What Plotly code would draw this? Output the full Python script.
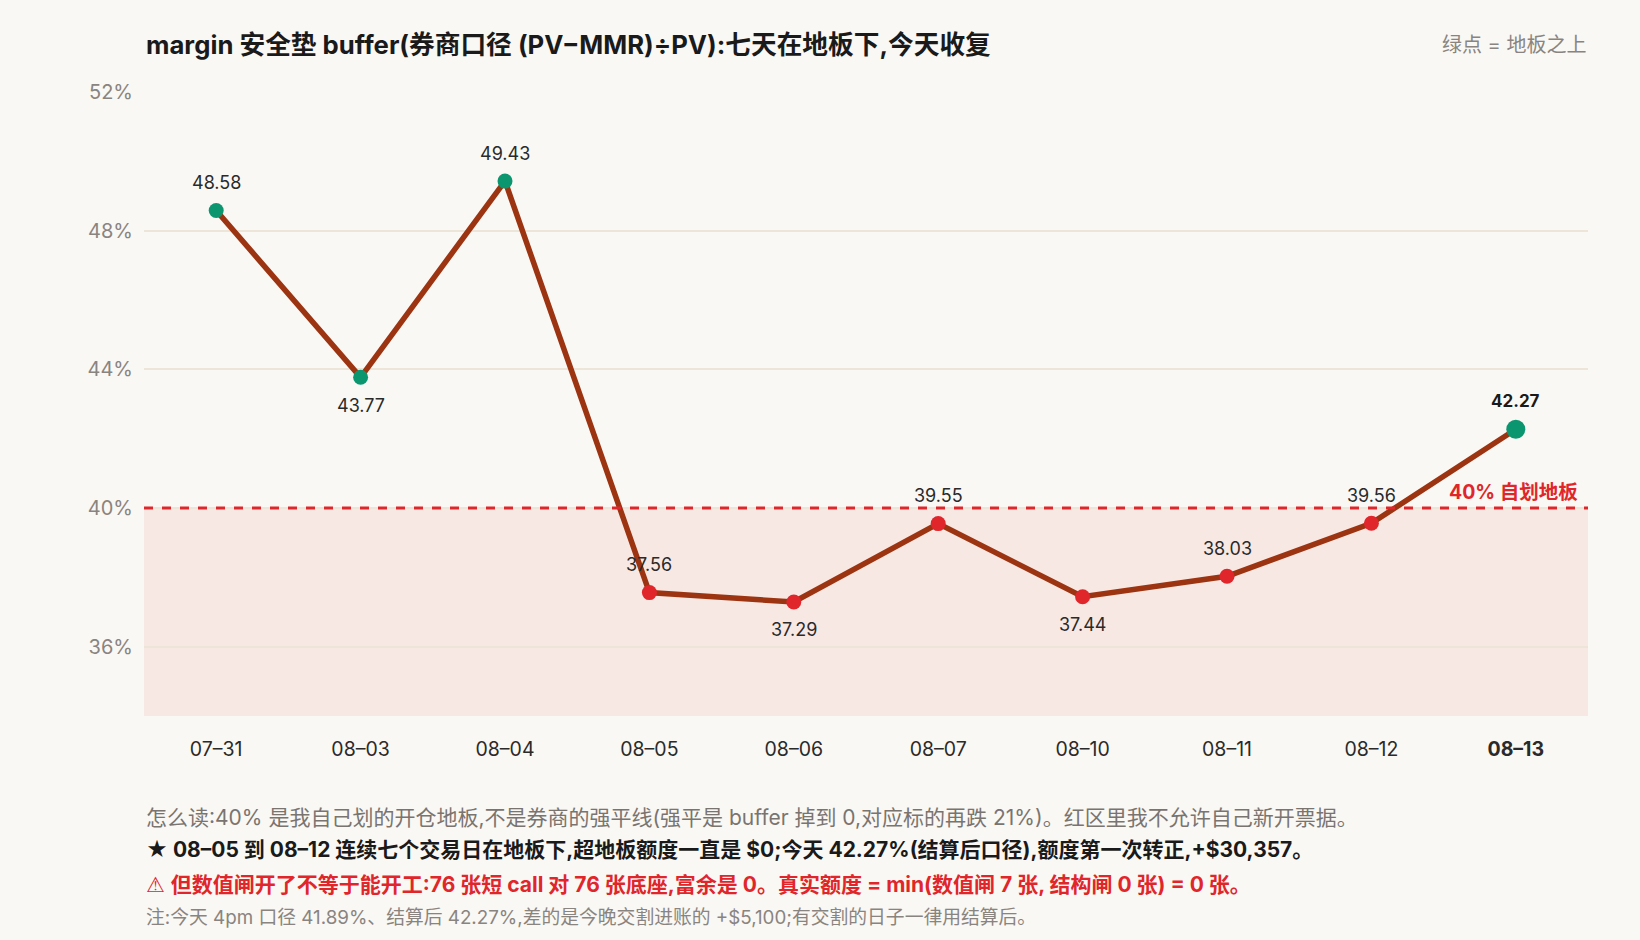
import plotly.graph_objects as go

# 数据
dates = ["07–31", "08–03", "08–04", "08–05", "08–06", "08–07", "08–10", "08–11", "08–12", "08–13"]
buffer_pct = [48.58, 43.77, 49.43, 37.56, 37.29, 39.55, 37.44, 38.03, 39.56, 42.27]
label_above = [True, False, True, True, False, True, False, True, True, True]
floor = 40
y_ticks = [36, 40, 44, 48, 52]

FONT = "Inter, Noto Sans CJK SC"
GREEN = "#0c9670"
RED = "#e0262b"
LINE = "#9c3412"

marker_colors = [GREEN if v >= floor else RED for v in buffer_pct]
marker_sizes = [15] * (len(dates) - 1) + [19]
tick_text = dates[:-1] + [f"<b>{dates[-1]}</b>"]

fig = go.Figure()
fig.add_trace(go.Scatter(
    x=dates, y=buffer_pct, mode="lines",
    line=dict(color=LINE, width=5.5), hoverinfo="skip",
))
fig.add_trace(go.Scatter(
    x=dates, y=buffer_pct, mode="markers",
    marker=dict(color=marker_colors, size=marker_sizes, opacity=1, line=dict(width=0)),
    cliponaxis=False, hoverinfo="skip",
))

# 数值标签
for i, (d, v, up) in enumerate(zip(dates, buffer_pct, label_above)):
    last = i == len(dates) - 1
    fig.add_annotation(x=d, y=v, text=f"<b>{v:.2f}</b>" if last else f"{v:.2f}",
                       showarrow=False, yshift=28 if up else -28,
                       font=dict(family=FONT, size=18 if not last else 17,
                                 color="#1a1a1a" if last else "#2a2a2a"))

# 红区 + 地板线
fig.add_shape(type="rect", xref="paper", yref="y", x0=0, x1=1, y0=34, y1=floor,
              fillcolor="#f8e8e4", line=dict(width=0), layer="below")
fig.add_shape(type="line", xref="paper", yref="y", x0=0, x1=1, y0=floor, y1=floor,
              line=dict(color=RED, width=3, dash="dash"), layer="above")
fig.add_annotation(xref="paper", yref="y", x=1, y=floor, xanchor="right", yanchor="bottom",
                   xshift=-8, yshift=2, showarrow=False,
                   text="<b>40% 自划地板</b>", font=dict(family=FONT, size=19.5, color=RED))

# 标题和角注
fig.add_annotation(xref="paper", yref="paper", x=0, y=1, xanchor="left", yanchor="middle",
                   yshift=48, showarrow=False,
                   text="<b>margin 安全垫 buffer(券商口径 (PV−MMR)÷PV):七天在地板下,今天收复</b>",
                   font=dict(family=FONT, size=25.7, color="#1a1a1a"))
fig.add_annotation(xref="paper", yref="paper", x=1, y=1, xanchor="right", yanchor="middle",
                   yshift=47, showarrow=False, text="绿点 = 地板之上",
                   font=dict(family=FONT, size=20, color="#8a8480"))

# 底部说明
notes = [
    ("怎么读:40% 是我自己划的开仓地板,不是券商的强平线(强平是 buffer 掉到 0,对应标的再跌 21%)。红区里我不允许自己新开票据。",
     "#7a7470", 21),
    ("<b>★ 08–05 到 08–12 连续七个交易日在地板下,超地板额度一直是 $0;今天 42.27%(结算后口径),额度第一次转正,+$30,357。</b>",
     "#1a1a1a", 21),
    ("<span style=\"font-family:'DejaVu Sans'\">⚠</span> <b>但数值闸开了不等于能开工:76 张短 call 对 76 张底座,富余是 0。真实额度 = min(数值闸 7 张, 结构闸 0 张) = 0 张。</b>",
     RED, 21),
    ("注:今天 4pm 口径 41.89%、结算后 42.27%,差的是今晚交割进账的 +$5,100;有交割的日子一律用结算后。",
     "#8a8480", 18.8),
]
note_y = [817, 850, 884, 917]
for (txt, col, sz), yy in zip(notes, note_y):
    fig.add_annotation(xref="paper", yref="paper", x=0, y=(716 - yy) / 624,
                       xanchor="left", yanchor="middle", showarrow=False,
                       text=txt, font=dict(family=FONT, size=sz, color=col))

fig.update_layout(
    width=1640, height=940,
    margin=dict(l=144, r=52, t=92, b=224),
    paper_bgcolor="#f9f8f4", plot_bgcolor="#f9f8f4",
    showlegend=False,
    font=dict(family=FONT),
    xaxis=dict(
        tickmode="array", tickvals=dates, ticktext=tick_text,
        range=[-0.5, len(dates) - 0.5], showgrid=False, zeroline=False, showline=False,
        ticks="", ticklabelstandoff=19,
        tickfont=dict(family=FONT, size=19.5, color="#2a2a2a"),
    ),
    yaxis=dict(
        range=[34, 52], tickvals=y_ticks, ticktext=[f"{t}%" for t in y_ticks],
        showgrid=True, gridcolor="#ece5d8", gridwidth=2, zeroline=False, showline=False,
        ticks="", ticklabelstandoff=10,
        tickfont=dict(family=FONT, size=20, color="#8a8480"),
    ),
)

fig.write_html("out.html", config={"displayModeBar": False},
               post_script="document.body.style.margin='0';")
